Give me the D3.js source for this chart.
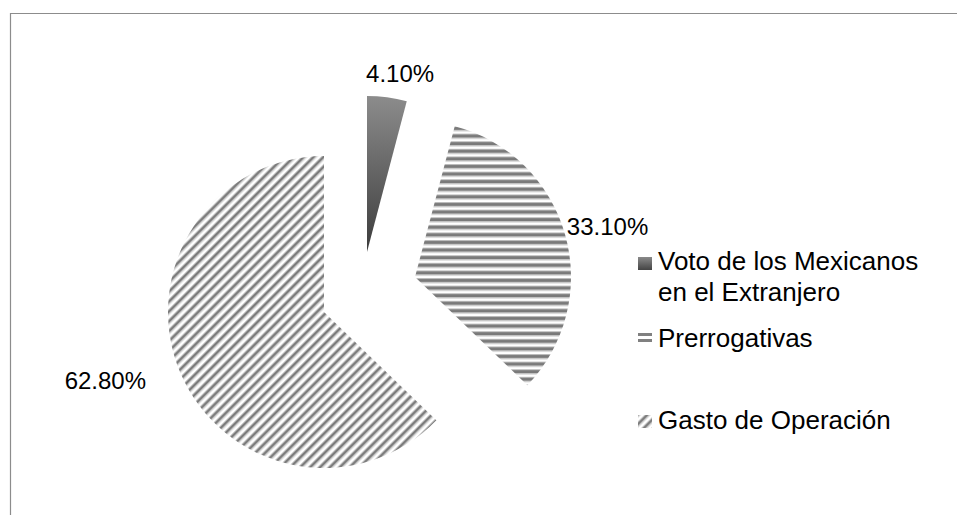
<!DOCTYPE html>
<html>
<head>
<meta charset="utf-8">
<script src="https://cdn.jsdelivr.net/npm/d3@7/dist/d3.min.js"></script>
<style>
  html, body { margin: 0; padding: 0; background: #fff; }
  svg { display: block; font-family: "Liberation Sans", Arial, sans-serif; }
</style>
</head>
<body>
<svg id="chart" width="957" height="515"></svg>
<script>
// ---- data ----
const categories = ["Voto de los Mexicanos en el Extranjero", "Prerrogativas", "Gasto de Operación"];
const legendLines = [["Voto de los Mexicanos", "en el Extranjero"], ["Prerrogativas"], ["Gasto de Operación"]];
const values = [4.1, 33.1, 62.8];
const valueLabels = ["4.10%", "33.10%", "62.80%"];

// ---- layout ----
const W = 957, H = 515;
const pieCenter = [370, 280];
const radius = 156;
const explode = [[-3, -28], [45, -3], [-46, 32]];       // per-slice displacement
const labelRadius = [180, 200, 205];
const labelNudge = [[10, 0], [0, 3], [-30, -12]];
const fills = ["url(#gradVoto)", "url(#patH)", "url(#patD)"];

const svg = d3.select("#chart");
const defs = svg.append("defs");

// gradient for first slice
const g1 = defs.append("linearGradient").attr("id", "gradVoto")
  .attr("x1", 0).attr("y1", 0).attr("x2", 0).attr("y2", 1);
g1.append("stop").attr("offset", "0%").attr("stop-color", "#8c8c8c");
g1.append("stop").attr("offset", "100%").attr("stop-color", "#3c3c3c");
const g2 = defs.append("linearGradient").attr("id", "gradVotoLeg")
  .attr("x1", 0).attr("y1", 0).attr("x2", 0).attr("y2", 1);
g2.append("stop").attr("offset", "0%").attr("stop-color", "#8a8a8a");
g2.append("stop").attr("offset", "100%").attr("stop-color", "#444");

// horizontal stripes
const pH = defs.append("pattern").attr("id", "patH").attr("patternUnits", "userSpaceOnUse")
  .attr("width", 10).attr("height", 7.6).attr("y", 1);
pH.append("rect").attr("width", 10).attr("height", 7.6).attr("fill", "#ffffff");
pH.append("rect").attr("y", 0).attr("width", 10).attr("height", 1).attr("fill", "#bdbdbd");
pH.append("rect").attr("y", 1).attr("width", 10).attr("height", 3.2).attr("fill", "#7a7a7a");
pH.append("rect").attr("y", 4.2).attr("width", 10).attr("height", 1).attr("fill", "#bdbdbd");

// diagonal stripes "/"
const pD = defs.append("pattern").attr("id", "patD").attr("patternUnits", "userSpaceOnUse")
  .attr("width", 7).attr("height", 10).attr("patternTransform", "rotate(45)");
pD.append("rect").attr("width", 7).attr("height", 10).attr("fill", "#ffffff");
pD.append("rect").attr("x", 0).attr("width", 0.9).attr("height", 10).attr("fill", "#c4c4c4");
pD.append("rect").attr("x", 0.9).attr("width", 2.6).attr("height", 10).attr("fill", "#7c7c7c");
pD.append("rect").attr("x", 3.5).attr("width", 0.9).attr("height", 10).attr("fill", "#c4c4c4");

// frame
svg.append("line").attr("x1", 10).attr("y1", 13.5).attr("x2", W).attr("y2", 13.5)
  .attr("stroke", "#8c8c8c").attr("stroke-width", 1.2);
svg.append("line").attr("x1", 10.5).attr("y1", 13).attr("x2", 10.5).attr("y2", H)
  .attr("stroke", "#8c8c8c").attr("stroke-width", 1.2);

// pie
const pie = d3.pie().sort(null).value(d => d);
const arcs = pie(values);
const arc = d3.arc().innerRadius(0).outerRadius(radius);

const sliceG = svg.append("g").attr("transform", `translate(${pieCenter[0]},${pieCenter[1]})`);
sliceG.selectAll("path.slice").data(arcs).join("path")
  .attr("class", "slice")
  .attr("transform", (d, i) => `translate(${explode[i][0]},${explode[i][1]})`)
  .attr("d", arc)
  .attr("fill", (d, i) => fills[i]);

// value labels
sliceG.selectAll("text.val").data(arcs).join("text")
  .attr("class", "val")
  .attr("x", (d, i) => {
    const a = (d.startAngle + d.endAngle) / 2;
    return explode[i][0] + Math.sin(a) * labelRadius[i] + labelNudge[i][0];
  })
  .attr("y", (d, i) => {
    const a = (d.startAngle + d.endAngle) / 2;
    return explode[i][1] - Math.cos(a) * labelRadius[i] + labelNudge[i][1];
  })
  .attr("text-anchor", "middle")
  .attr("dominant-baseline", "central")
  .attr("font-size", 24)
  .attr("fill", "#000")
  .text((d, i) => valueLabels[i]);

// legend
const legX = 638, textX = 658;
const legBase = [270, 347, 429];
const leg = svg.append("g");
categories.forEach((c, i) => {
  const gi = leg.append("g");
  const b = legBase[i];
  if (i === 0) {
    gi.append("rect").attr("x", legX).attr("y", b - 13).attr("width", 14).attr("height", 13)
      .attr("fill", "url(#gradVotoLeg)");
  } else if (i === 1) {
    gi.append("rect").attr("x", legX).attr("y", b - 14).attr("width", 14).attr("height", 3).attr("fill", "#808080");
    gi.append("rect").attr("x", legX).attr("y", b - 8).attr("width", 14).attr("height", 3).attr("fill", "#808080");
  } else {
    gi.append("rect").attr("x", legX).attr("y", b - 14).attr("width", 14).attr("height", 13)
      .attr("fill", "url(#patD)");
  }
  const t = gi.append("text").attr("x", textX).attr("y", b)
    .attr("font-size", 26).attr("fill", "#000");
  legendLines[i].forEach((ln, k) => {
    t.append("tspan").attr("x", textX).attr("dy", k === 0 ? 0 : 31).text(ln);
  });
});
</script>
</body>
</html>
